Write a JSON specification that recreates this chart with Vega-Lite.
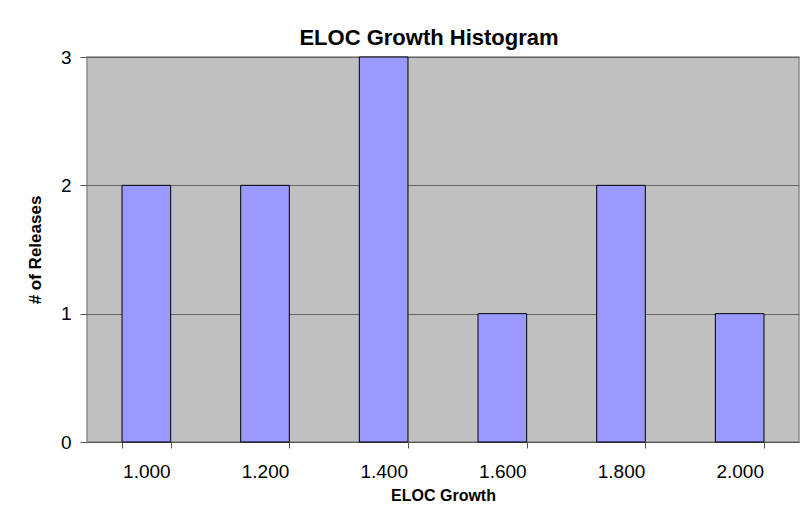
{
  "$schema": "https://vega.github.io/schema/vega-lite/v6.json",
  "autosize": {"type": "none"},
  "width": 712,
  "height": 385,
  "padding": {"left": 87, "top": 57, "right": 7, "bottom": 66},
  "background": "white",
  "title": {
    "text": "ELOC Growth Histogram",
    "font": "Liberation Sans",
    "fontSize": 22,
    "fontWeight": "bold",
    "color": "black",
    "frame": "group",
    "anchor": "middle",
    "baseline": "alphabetic",
    "offset": -19,
    "dx": -14
  },
  "data": {
    "values": [
      {"growth": "1.000", "releases": 2},
      {"growth": "1.200", "releases": 2},
      {"growth": "1.400", "releases": 3},
      {"growth": "1.600", "releases": 1},
      {"growth": "1.800", "releases": 2},
      {"growth": "2.000", "releases": 1}
    ]
  },
  "mark": {"type": "bar", "fill": "#9999FF", "stroke": "black", "strokeWidth": 1},
  "encoding": {
    "x": {
      "field": "growth",
      "type": "ordinal",
      "sort": null,
      "scale": {"paddingInner": 0.59, "paddingOuter": 0.295},
      "axis": {
        "title": "ELOC Growth",
        "titleFont": "Liberation Sans",
        "titleFontSize": 16,
        "titleFontWeight": "bold",
        "titleColor": "black",
        "titlePadding": 6,
        "labelAngle": 0,
        "labelFont": "Liberation Sans",
        "labelFontSize": 19,
        "labelColor": "black",
        "labelPadding": 14,
        "tickBand": "extent",
        "tickSize": 6,
        "tickColor": "#555555",
        "domainColor": "#555555",
        "grid": false
      }
    },
    "y": {
      "field": "releases",
      "type": "quantitative",
      "scale": {"domain": [0, 3], "nice": false},
      "axis": {
        "title": "# of Releases",
        "titleFont": "Liberation Sans",
        "titleFontSize": 17,
        "titleFontWeight": "bold",
        "titleColor": "black",
        "titlePadding": 16,
        "values": [0, 1, 2, 3],
        "format": "d",
        "labelFont": "Liberation Sans",
        "labelFontSize": 19,
        "labelColor": "black",
        "labelPadding": 9,
        "tickSize": 7,
        "tickColor": "#555555",
        "domain": false,
        "grid": true,
        "gridColor": "#666666",
        "gridWidth": 1
      }
    }
  },
  "config": {
    "view": {"fill": "#C0C0C0", "stroke": "#8c8c8c", "strokeWidth": 1.5}
  }
}
